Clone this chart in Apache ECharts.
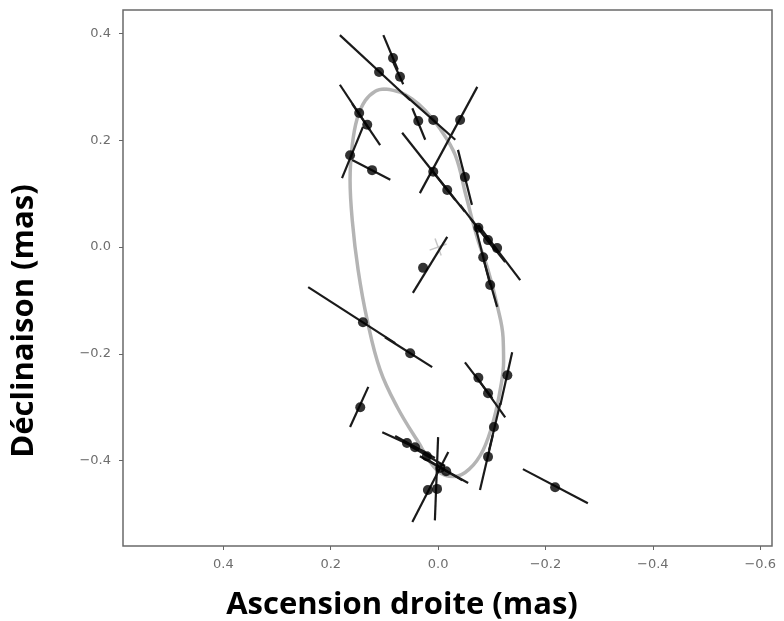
<!DOCTYPE html>
<html>
<head>
<meta charset="utf-8">
<script src="https://cdn.jsdelivr.net/npm/echarts@6/dist/echarts.min.js"></script>
<style>
  html, body { margin: 0; padding: 0; background: #fff; }
  #chart { width: 784px; height: 621px; }
</style>
</head>
<body>
<div id="chart"></div>
<script>
// observed positions (mas)
const raObs = [0.110, 0.009, 0.084, 0.071, 0.037, 0.147, 0.132, 0.164, 0.123, -0.041,
  0.009, -0.017, -0.075, -0.093, -0.110, -0.050, -0.084, -0.097, 0.028,
  0.140, 0.052, 0.145, -0.075, -0.093, -0.129, -0.104, -0.093,
  0.058, 0.043, 0.021, -0.004, -0.015, 0.002, 0.019, -0.218];
const decObs = [0.328, 0.238, 0.354, 0.319, 0.236, 0.251, 0.229, 0.172, 0.144, 0.238,
  0.141, 0.107, 0.036, 0.013, -0.002, 0.131, -0.019, -0.071, -0.039,
  -0.141, -0.199, -0.300, -0.245, -0.274, -0.240, -0.337, -0.393,
  -0.367, -0.375, -0.392, -0.414, -0.420, -0.453, -0.455, -0.450];
// error bar ends [ra, dec]
const errStart = [[0.183, 0.397], [0.062, 0.285], [0.102, 0.397], [0.084, 0.347], [0.048, 0.260],
  [0.183, 0.304], [0.160, 0.268], [0.179, 0.129], [0.160, 0.163], [-0.073, 0.300],
  [0.067, 0.214], [0.015, 0.148], [-0.041, 0.079], [-0.060, 0.054], [-0.075, 0.041],
  [-0.037, 0.182], [-0.069, 0.041], [-0.086, -0.028], [0.047, -0.086],
  [0.242, -0.075], [0.099, -0.169], [0.130, -0.262], [-0.050, -0.216], [-0.069, -0.240],
  [-0.138, -0.197], [-0.116, -0.292], [-0.102, -0.352],
  [0.104, -0.347], [0.080, -0.354], [0.052, -0.373], [0.034, -0.392], [0.019, -0.399],
  [0.000, -0.356], [-0.019, -0.384], [-0.158, -0.416]];
const errEnd = [[0.052, 0.275], [-0.032, 0.201], [0.075, 0.332], [0.065, 0.305], [0.024, 0.201],
  [0.127, 0.219], [0.108, 0.191], [0.140, 0.225], [0.089, 0.126], [0.034, 0.101],
  [-0.032, 0.088], [-0.050, 0.066], [-0.106, -0.006], [-0.125, -0.028], [-0.153, -0.062],
  [-0.063, 0.079], [-0.097, -0.071], [-0.110, -0.112], [-0.017, 0.019],
  [0.080, -0.180], [0.011, -0.225], [0.164, -0.337], [-0.101, -0.283], [-0.125, -0.319],
  [-0.116, -0.296], [-0.095, -0.380], [-0.078, -0.455],
  [0.024, -0.384], [0.006, -0.395], [-0.013, -0.410], [-0.056, -0.442], [-0.045, -0.437],
  [0.006, -0.512], [0.048, -0.515], [-0.279, -0.480]];
// orbit (closed loop)
const orbitRa = [0.099, 0.071, 0.048, 0.024, -0.004, -0.032, -0.052, -0.073, -0.093, -0.110,
  -0.121, -0.122, -0.117, -0.104, -0.084, -0.058, -0.030, 0.002, 0.039, 0.076,
  0.108, 0.132, 0.149, 0.160, 0.164, 0.160, 0.151, 0.136, 0.117, 0.099];
const orbitDec = [0.296, 0.290, 0.277, 0.256, 0.221, 0.172, 0.096, 0.017, -0.043, -0.109,
  -0.169, -0.215, -0.260, -0.322, -0.380, -0.416, -0.430, -0.418, -0.362, -0.300,
  -0.230, -0.137, -0.043, 0.051, 0.126, 0.190, 0.240, 0.274, 0.292, 0.296];
const center = [0, 0];
const raTicks = [0.4, 0.2, 0.0, -0.2, -0.4, -0.6];
const decTicks = [0.4, 0.2, 0.0, -0.2, -0.4];

const fmt = v => (v < -1e-9 ? '\u2212' : '') + Math.abs(v).toFixed(1);

const chart = echarts.init(document.getElementById('chart'));

const tickStyle = { color: '#6e6e6e', fontSize: 13, fontFamily: 'DejaVu Sans' };

chart.setOption({
  animation: false,
  grid: {
    left: 123, right: 12, top: 10, bottom: 75,
    show: true, borderColor: '#6a6a6a', borderWidth: 1.5
  },
  xAxis: {
    type: 'value', inverse: true, min: -0.622, max: 0.587,
    axisLine: { show: false, onZero: false },
    splitLine: { show: false },
    axisTick: { show: true, length: 4, customValues: raTicks, lineStyle: { color: '#666' } },
    axisLabel: Object.assign({ customValues: raTicks, formatter: fmt, margin: 12 }, tickStyle)
  },
  yAxis: {
    type: 'value', min: -0.56, max: 0.444,
    axisLine: { show: false, onZero: false },
    splitLine: { show: false },
    axisTick: { show: true, length: 4, customValues: decTicks, lineStyle: { color: '#666' } },
    axisLabel: Object.assign({ customValues: decTicks, formatter: fmt, margin: 12 }, tickStyle)
  },
  graphic: [
    {
      type: 'text', x: 402, y: 605,
      style: { text: 'Ascension droite (mas)', font: 'bold 31px "Open Sans"', fill: '#000',
        align: 'center', verticalAlign: 'middle' }
    },
    {
      type: 'text', x: 24, y: 321, rotation: Math.PI / 2,
      style: { text: 'Déclinaison (mas)', font: 'bold 31px "Open Sans"', fill: '#000',
        align: 'center', verticalAlign: 'middle' }
    }
  ],
  series: [
    {
      type: 'line',
      data: orbitRa.map((r, i) => [r, orbitDec[i]]),
      smooth: 0.4,
      showSymbol: false,
      lineStyle: { color: '#b4b4b4', width: 3.5 },
      z: 1
    },
    {
      type: 'scatter',
      data: [center],
      symbol: 'path://M0,-1L0,1M-1,0L1,0',
      symbolSize: 18,
      symbolRotate: 20,
      itemStyle: { color: 'none', borderColor: '#b8b8b8', borderWidth: 1.5 },
      z: 2
    },
    {
      type: 'lines',
      coordinateSystem: 'cartesian2d',
      data: errStart.map((s, i) => ({ coords: [s, errEnd[i]] })),
      lineStyle: { color: '#1a1a1a', width: 2.2, opacity: 1 },
      z: 3
    },
    {
      type: 'scatter',
      data: raObs.map((r, i) => [r, decObs[i]]),
      symbolSize: 10,
      itemStyle: { color: '#000' },
      z: 4
    }
  ]
});
</script>
</body>
</html>
